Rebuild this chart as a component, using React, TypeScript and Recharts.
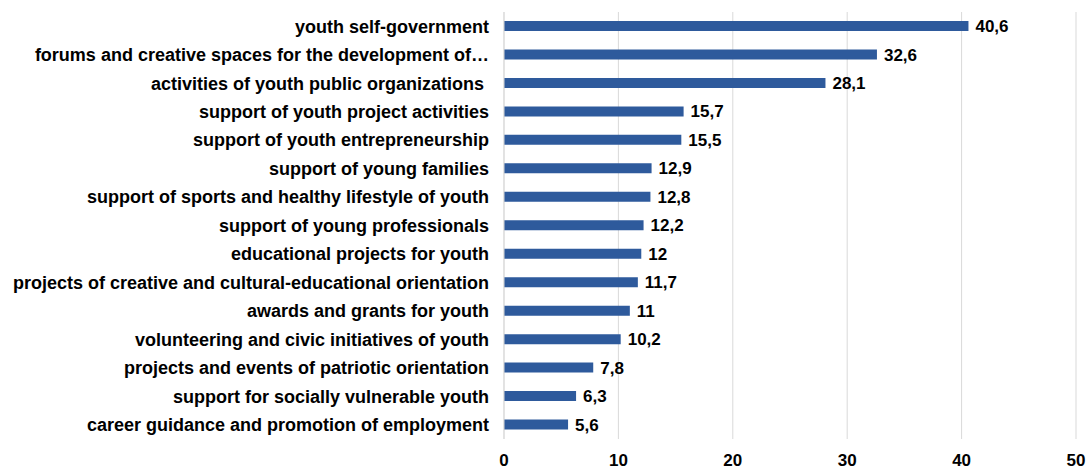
import React from 'react';
import { BarChart, Bar, XAxis, YAxis, CartesianGrid, LabelList } from 'recharts';

const categories = [
  'youth self-government',
  'forums and creative spaces for the development of…',
  'activities of youth public organizations ',
  'support of youth project activities',
  'support of youth entrepreneurship',
  'support of young families',
  'support of sports and healthy lifestyle of youth',
  'support of young professionals',
  'educational projects for youth',
  'projects of creative and cultural-educational orientation',
  'awards and grants for youth',
  'volunteering and civic initiatives of youth',
  'projects and events of patriotic orientation',
  'support for socially vulnerable youth',
  'career guidance and promotion of employment',
];

const values = [40.6, 32.6, 28.1, 15.7, 15.5, 12.9, 12.8, 12.2, 12, 11.7, 11, 10.2, 7.8, 6.3, 5.6];

const xTicks = [0, 10, 20, 30, 40, 50];

const data = categories.map((name, i) => ({ name, value: values[i] }));

const FONT = '"Liberation Sans", Arial, sans-serif';

const CategoryTick = (props: any) => {
  const { x, y, payload } = props;
  return (
    <text
      x={x}
      y={y}
      dy="0.355em"
      textAnchor="end"
      fill="#000"
      fontSize={18}
      fontWeight="bold"
      fontFamily={FONT}
      style={{ whiteSpace: 'pre' }}
    >
      {payload.value}
    </text>
  );
};

export default function App() {
  return (
    <div style={{ position: 'absolute', left: 0, top: 0, background: '#fff' }}>
      <BarChart
        width={1086}
        height={466}
        data={data}
        layout="vertical"
        margin={{ top: 12, right: 10, bottom: 0, left: 0 }}
      >
        <CartesianGrid horizontal={false} stroke="#d9d9d9" />
        <XAxis
          type="number"
          domain={[0, 50]}
          ticks={xTicks}
          axisLine={false}
          tickLine={false}
          tickMargin={9}
          height={27}
          tick={{ fill: '#000', fontSize: 17, fontWeight: 'bold', fontFamily: FONT }}
        />
        <YAxis
          type="category"
          dataKey="name"
          width={504}
          axisLine={{ stroke: '#d9d9d9' }}
          tickLine={false}
          tickMargin={9}
          interval={0}
          tick={<CategoryTick />}
        />
        <Bar dataKey="value" fill="#2E5A9C" barSize={10} isAnimationActive={false}>
          <LabelList
            dataKey="value"
            position="right"
            offset={7}
            formatter={(v: any) => String(v).replace('.', ',')}
            style={{ fill: '#000', fontSize: 17, fontWeight: 'bold', fontFamily: FONT }}
          />
        </Bar>
      </BarChart>
    </div>
  );
}
